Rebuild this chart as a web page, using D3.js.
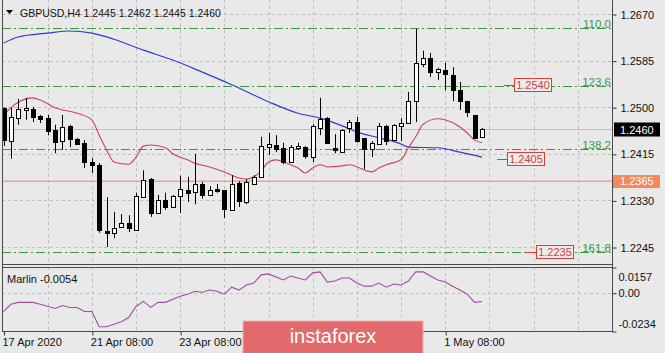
<!DOCTYPE html>
<html>
<head>
<meta charset="utf-8">
<script src="https://cdn.jsdelivr.net/npm/d3@7"></script>
<style>
  body { margin: 0; background: #e9e9e9; }
  text { font-family: "Liberation Sans", Arial, sans-serif; }
</style>
</head>
<body>
<script>

svgWidth = 665
svgHeight = 353
paneLeft = 2
paneRight = 612
mainBottom = 264
indTop = 267
indBottom = 331

// candles, H4
var opens  = [1.2499,1.2438,1.2480,1.2495,1.2497,1.2484,1.2480,1.2458,1.2438,1.2466,1.2442,1.2435,1.2400,1.2395,1.2274,1.2271,1.2282,1.2289,1.2276,1.2336,1.2369,1.2307,1.2331,1.2318,1.2338,1.2349,1.2345,1.2360,1.2340,1.2351,1.2349,1.2313,1.2362,1.2327,1.2360,1.2373,1.2427,1.2431,1.2426,1.2400,1.2426,1.2427,1.2409,1.2462,1.2480,1.2426,1.2418,1.2462,1.2473,1.2444,1.2424,1.2433,1.2466,1.2440,1.2466,1.2471,1.2511,1.2579,1.2590,1.2564,1.2568,1.2559,1.2531,1.2511,1.2486,1.2445]
var highs  = [1.2500,1.2499,1.2515,1.2517,1.2500,1.2486,1.2486,1.2468,1.2486,1.2468,1.2444,1.2440,1.2407,1.2398,1.2336,1.2309,1.2305,1.2303,1.2344,1.2385,1.2371,1.2340,1.2344,1.2340,1.2375,1.2373,1.2415,1.2364,1.2356,1.2360,1.2349,1.2376,1.2365,1.2369,1.2376,1.2446,1.2453,1.2449,1.2435,1.2431,1.2435,1.2429,1.2469,1.2517,1.2482,1.2451,1.2460,1.2477,1.2482,1.2444,1.2438,1.2471,1.2468,1.2469,1.2480,1.2528,1.2643,1.2603,1.2599,1.2572,1.2581,1.2573,1.2546,1.2511,1.2486,1.2462]
var lows   = [1.2429,1.2406,1.2468,1.2477,1.2473,1.2471,1.2449,1.2416,1.2422,1.2427,1.2431,1.2389,1.2380,1.2271,1.2245,1.2261,1.2280,1.2272,1.2276,1.2336,1.2300,1.2305,1.2313,1.2316,1.2307,1.2327,1.2323,1.2333,1.2338,1.2344,1.2298,1.2311,1.2318,1.2323,1.2358,1.2373,1.2413,1.2418,1.2396,1.2400,1.2422,1.2406,1.2400,1.2449,1.2433,1.2416,1.2418,1.2453,1.2435,1.2387,1.2409,1.2431,1.2431,1.2438,1.2438,1.2471,1.2473,1.2573,1.2555,1.2550,1.2531,1.2511,1.2495,1.2482,1.2442,1.2445]
var closes = [1.2440,1.2482,1.2497,1.2499,1.2482,1.2479,1.2457,1.2437,1.2464,1.2442,1.2433,1.2400,1.2395,1.2276,1.2271,1.2280,1.2289,1.2280,1.2338,1.2367,1.2307,1.2331,1.2318,1.2338,1.2351,1.2344,1.2360,1.2340,1.2349,1.2347,1.2314,1.2360,1.2329,1.2364,1.2373,1.2429,1.2433,1.2424,1.2400,1.2427,1.2429,1.2411,1.2466,1.2479,1.2435,1.2422,1.2458,1.2473,1.2438,1.2424,1.2435,1.2466,1.2438,1.2468,1.2471,1.2511,1.2581,1.2590,1.2564,1.2570,1.2561,1.2531,1.2511,1.2491,1.2444,1.2460]

// slow MA (blue), read at some bars
var blueIdx  = [0,2,6,9,12,15,19,23,27,31,36,40,43,46,48,51,54,55,59,62,65]
var blueVals = [1.2617,1.2628,1.2635,1.2639,1.2635,1.2624,1.2604,1.2586,1.2564,1.2541,1.2510,1.2489,1.2480,1.2466,1.2455,1.2444,1.2433,1.2427,1.2426,1.2418,1.2409]

// fast MA (red)
var redIdx  = [0,2,4,5,7,10,12,13,14,15,17,18,19,20,22,23,25,26,28,30,32,33,34,35,36,37,38,40,41,42,43,44,46,47,48,50,51,52,54,55,56,57,59,60,62,63,64,65]
var redVals = [1.2486,1.2509,1.2517,1.2513,1.2499,1.2489,1.2477,1.2449,1.2422,1.2400,1.2396,1.2409,1.2429,1.2431,1.2426,1.2415,1.2404,1.2398,1.2391,1.2382,1.2371,1.2369,1.2373,1.2384,1.2400,1.2404,1.2400,1.2389,1.2380,1.2389,1.2395,1.2391,1.2393,1.2395,1.2391,1.2382,1.2389,1.2395,1.2404,1.2426,1.2446,1.2469,1.2479,1.2477,1.2464,1.2453,1.2440,1.2435]

// Marlin oscillator
var marlinIdx  = [0,1,2,4,5,7,8,9,10,11,12,13,14,16,17,18,19,20,21,22,24,25,26,27,28,29,30,31,32,33,34,35,36,38,39,40,41,42,43,44,45,46,47,48,49,50,51,52,53,54,55,56,57,58,59,60,61,62,63,64,65]
var marlinVals = [-0.0115,-0.0071,-0.0059,-0.0059,-0.0071,-0.0096,-0.0078,-0.0090,-0.0090,-0.0115,-0.0115,-0.0208,-0.0208,-0.0177,-0.0152,-0.0084,-0.0053,-0.0090,-0.0059,-0.0059,-0.0022,-0.0009,0.0009,0.0003,0.0016,0.0009,-0.0009,0.0034,0.0016,0.0047,0.0059,0.0109,0.0115,0.0078,0.0102,0.0090,0.0078,0.0121,0.0127,0.0065,0.0071,0.0090,0.0090,0.0059,0.0040,0.0040,0.0059,0.0034,0.0053,0.0047,0.0071,0.0127,0.0127,0.0102,0.0078,0.0065,0.0040,0.0016,-0.0009,-0.0059,-0.0054]

var priceTicks = [1.2670, 1.2585, 1.2500, 1.2415, 1.2330, 1.2245]
var marlinTicks = [0.0157, 0, -0.0234]
var marlinTickLabels = ["0.0157", "0.00", "-0.0234"]
// labels under the watermark (27 Apr, 29 Apr) are not visible, so left out
var timeIdx = [0, 12, 24, 60]
var timeLabels = ["17 Apr 2020", "21 Apr 08:00", "23 Apr 08:00", "1 May 08:00"]

var fibNames  = ["110.0", "123.6", "138.2", "161.8"]
var fibPrices = [1.26445, 1.2539, 1.2424, 1.2236]
var markPrices = [1.2540, 1.2405, 1.2235]
var supportPrice = 1.2365
var lastPrice = 1.2460

xScale = d3.scaleLinear()
            .domain([0, 65])
            .range([3.5, 482])

yScale = d3.scaleLinear()
            .domain([1.2245, 1.2670])
            .range([247, 14])

mScale = d3.scaleLinear()
            .domain([-0.0234, 0.0157])
            .range([indBottom, indTop])

function px(v) { return Math.round(v) + 0.5 }

var svg = d3.select("body").append("svg")
          .attr("width", svgWidth)
          .attr("height", svgHeight)

svg.append("rect")
    .attr("width", svgWidth)
    .attr("height", svgHeight)
    .attr("fill", "#e9e9e9")

svg.append("clipPath").attr("id", "mainClip")
    .append("rect")
    .attr("x", paneLeft).attr("y", 0)
    .attr("width", paneRight - paneLeft).attr("height", mainBottom)

svg.append("clipPath").attr("id", "indClip")
    .append("rect")
    .attr("x", paneLeft).attr("y", indTop)
    .attr("width", paneRight - paneLeft).attr("height", indBottom - indTop)

// grid
var gridIdx = d3.range(6, 79, 6)
var grid = svg.append("g")
    .attr("stroke", "#bdbdbd")
    .attr("stroke-dasharray", "3,3")

grid.selectAll(".vgrid")
    .data(gridIdx)
    .enter().append("line")
      .attr("x1", function(d) { return px(xScale(d)) })
      .attr("x2", function(d) { return px(xScale(d)) })
      .attr("y1", 0)
      .attr("y2", mainBottom)

grid.selectAll(".vgrid2")
    .data(gridIdx)
    .enter().append("line")
      .attr("x1", function(d) { return px(xScale(d)) })
      .attr("x2", function(d) { return px(xScale(d)) })
      .attr("y1", indTop)
      .attr("y2", indBottom)

grid.selectAll(".hgrid")
    .data(priceTicks)
    .enter().append("line")
      .attr("x1", paneLeft)
      .attr("x2", paneRight)
      .attr("y1", function(d) { return px(yScale(d)) })
      .attr("y2", function(d) { return px(yScale(d)) })

grid.append("line")
    .attr("x1", paneLeft).attr("x2", paneRight)
    .attr("y1", px(mScale(0))).attr("y2", px(mScale(0)))

var main = svg.append("g").attr("clip-path", "url(#mainClip)")

// support line and bid line
main.append("line")
    .attr("x1", paneLeft).attr("x2", paneRight)
    .attr("y1", yScale(supportPrice)).attr("y2", yScale(supportPrice))
    .attr("stroke", "#f2a48a")
    .attr("stroke-width", 1.6)

main.append("line")
    .attr("x1", paneLeft).attr("x2", paneRight)
    .attr("y1", px(yScale(lastPrice))).attr("y2", px(yScale(lastPrice)))
    .attr("stroke", "#c2c2c2")

// fibo levels
main.selectAll(".fib")
    .data(fibPrices)
    .enter().append("line")
      .attr("x1", paneLeft)
      .attr("x2", paneRight)
      .attr("y1", function(d) { return px(yScale(d)) })
      .attr("y2", function(d) { return px(yScale(d)) })
      .attr("stroke", "#3a9a3a")
      .attr("stroke-dasharray", "9,3,2,3")

main.selectAll(".fibText")
    .data(fibPrices)
    .enter().append("text")
      .attr("x", paneRight - 1)
      .attr("y", function(d) { return px(yScale(d)) - 1 })
      .attr("text-anchor", "end")
      .attr("font-size", "11.5px")
      .attr("fill", "#3a9a3a")
      .text(function(d, i) { return fibNames[i] })

// moving averages
var blueLine = d3.line()
    .x(function(d, i) { return xScale(blueIdx[i]) })
    .y(function(d) { return yScale(d) })
    .curve(d3.curveMonotoneX)

main.append("path")
    .attr("d", blueLine(blueVals))
    .attr("fill", "none")
    .attr("stroke", "#2b3fc8")
    .attr("stroke-width", 1.2)

var redLine = d3.line()
    .x(function(d, i) { return xScale(redIdx[i]) })
    .y(function(d) { return yScale(d) })
    .curve(d3.curveMonotoneX)

main.append("path")
    .attr("d", redLine(redVals))
    .attr("fill", "none")
    .attr("stroke", "#d0405e")
    .attr("stroke-width", 1.1)

// candles
var candles = main.selectAll(".candle")
    .data(opens)
    .enter().append("g")
      .attr("class", "candle")

candles.append("line")
    .attr("x1", function(d, i) { return px(xScale(i)) })
    .attr("x2", function(d, i) { return px(xScale(i)) })
    .attr("y1", function(d, i) { return yScale(highs[i]) })
    .attr("y2", function(d, i) { return yScale(lows[i]) })
    .attr("stroke", "#000")

candles.append("rect")
    .attr("x", function(d, i) { return px(xScale(i)) - 2 })
    .attr("width", 4)
    .attr("y", function(d, i) { return Math.round(yScale(Math.max(d, closes[i]))) + 0.5 })
    .attr("height", function(d, i) {
      return Math.max(1, Math.round(Math.abs(yScale(d) - yScale(closes[i]))))
    })
    .attr("fill", function(d, i) { return closes[i] >= d ? "#fff" : "#000" })
    .attr("stroke", "#000")

// red price marks
var markX = [514, 507, 536]
var marks = svg.selectAll(".mark")
    .data(markPrices)
    .enter().append("g")
      .attr("class", "mark")

marks.append("line")
    .attr("x1", function(d, i) { return markX[i] - 10 })
    .attr("x2", function(d, i) { return markX[i] })
    .attr("y1", function(d) { return px(yScale(d)) })
    .attr("y2", function(d) { return px(yScale(d)) })
    .attr("stroke", "#e03a3a")

marks.append("rect")
    .attr("x", function(d, i) { return markX[i] + 0.5 })
    .attr("y", function(d) { return Math.round(yScale(d)) - 6.5 })
    .attr("width", 37)
    .attr("height", 13)
    .attr("fill", "#ececec")
    .attr("stroke", "#e03a3a")

marks.append("text")
    .attr("x", function(d, i) { return markX[i] + 19 })
    .attr("y", function(d) { return yScale(d) + 4 })
    .attr("text-anchor", "middle")
    .attr("font-size", "11px")
    .attr("fill", "#e03a3a")
    .text(function(d) { return d.toFixed(4) })

// Marlin pane
svg.append("g").attr("clip-path", "url(#indClip)")
  .append("path")
    .attr("d", d3.line()
        .x(function(d, i) { return xScale(marlinIdx[i]) })
        .y(function(d) { return mScale(d) })(marlinVals))
    .attr("fill", "none")
    .attr("stroke", "#a548aa")
    .attr("stroke-width", 1.1)

svg.append("text")
    .attr("x", 7).attr("y", 283)
    .attr("font-size", "11px")
    .attr("fill", "#111")
    .text("Marlin -0.0054")

// frames
var frame = svg.append("g").attr("stroke", "#4a4a4a").attr("fill", "none")
frame.append("line").attr("x1", paneLeft + 0.5).attr("x2", paneLeft + 0.5).attr("y1", 0).attr("y2", indBottom + 0.5)
frame.append("line").attr("x1", paneRight + 0.5).attr("x2", paneRight + 0.5).attr("y1", 0).attr("y2", indBottom + 0.5)
frame.append("line").attr("x1", paneLeft).attr("x2", paneRight + 1).attr("y1", mainBottom + 0.5).attr("y2", mainBottom + 0.5)
frame.append("line").attr("x1", paneLeft).attr("x2", paneRight + 1).attr("y1", indTop + 0.5).attr("y2", indTop + 0.5)
frame.append("line").attr("x1", paneLeft).attr("x2", paneRight + 1).attr("y1", indBottom + 0.5).attr("y2", indBottom + 0.5)

// axes
yAxis = d3.axisRight(yScale)
            .tickValues(priceTicks)
            .tickFormat(d3.format(".4f"))
            .tickSize(4)
            .tickPadding(4)

var yg = svg.append("g")
    .attr("transform", "translate(" + (paneRight + 0.5) + ",0.5)")
    .call(yAxis)
yg.select(".domain").remove()
yg.selectAll("text").attr("font-size", "11px").attr("fill", "#111").attr("font-family", "Liberation Sans, Arial, sans-serif")
yg.selectAll("line").attr("stroke", "#333")

mAxis = d3.axisRight(mScale)
            .tickValues(marlinTicks)
            .tickFormat(function(d, i) { return marlinTickLabels[i] })
            .tickSize(4)
            .tickPadding(2)

var mg = svg.append("g")
    .attr("transform", "translate(" + (paneRight + 0.5) + ",0.5)")
    .call(mAxis)
mg.select(".domain").remove()
mg.selectAll("text").attr("font-size", "11px").attr("fill", "#111").attr("font-family", "Liberation Sans, Arial, sans-serif")
    .attr("dy", function(d, i) { return i == 0 ? "1.2em" : (i == 2 ? "-0.4em" : "0.32em") })
mg.selectAll("line").attr("stroke", "#333")

xAxis = d3.axisBottom(xScale)
            .tickValues(timeIdx)
            .tickFormat(function(d, i) { return timeLabels[i] })
            .tickSize(4)
            .tickPadding(3)

var xg = svg.append("g")
    .attr("transform", "translate(0.5," + (indBottom + 0.5) + ")")
    .call(xAxis)
xg.select(".domain").remove()
xg.selectAll("line").attr("stroke", "#333")
xg.selectAll("text")
    .attr("text-anchor", "start")
    .attr("dx", "-2")
    .attr("font-size", "11px")
    .attr("fill", "#111")
    .attr("font-family", "Liberation Sans, Arial, sans-serif")

// price boxes on the axis
svg.append("rect")
    .attr("x", 614).attr("y", px(yScale(lastPrice)) - 7)
    .attr("width", 46).attr("height", 14)
    .attr("fill", "#000")
svg.append("text")
    .attr("x", 620).attr("y", px(yScale(lastPrice)) + 4)
    .attr("font-size", "11px").attr("fill", "#fff")
    .text(lastPrice.toFixed(4))

svg.append("rect")
    .attr("x", 613).attr("y", Math.round(yScale(supportPrice)) - 6)
    .attr("width", 47).attr("height", 13)
    .attr("fill", "#f5885c")
svg.append("text")
    .attr("x", 620).attr("y", yScale(supportPrice) + 4)
    .attr("font-size", "11px").attr("fill", "#fff")
    .text(supportPrice.toFixed(4))

// title
svg.append("path")
    .attr("d", "M6,10 L13,10 L9.5,14 Z")
    .attr("fill", "#000")
svg.append("text")
    .attr("x", 20).attr("y", 17)
    .attr("font-size", "10.5px")
    .attr("fill", "#111")
    .text("GBPUSD,H4  1.2445 1.2462 1.2445 1.2460")

// watermark
svg.append("rect")
    .attr("x", 243).attr("y", 321)
    .attr("width", 180).attr("height", 34)
    .attr("fill", "#e2696c")
    .attr("stroke", "#f2b0b0")
svg.append("text")
    .attr("x", 333).attr("y", 343)
    .attr("text-anchor", "middle")
    .attr("font-size", "20px")
    .attr("fill", "#fff")
    .text("instaforex")

</script>
</body>
</html>
